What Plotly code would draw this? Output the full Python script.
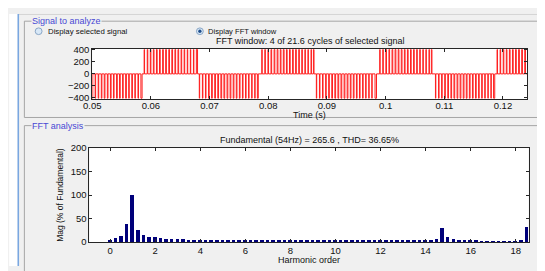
import plotly.graph_objects as go

# The browser page has an 8px white body margin; the figure sits inside it.
OFF = 8
W, H = 545 - OFF, 271 - OFF

# ---------------- data: signal (PWM) -----------------
# switching instants (ms) of each half cycle and its polarity
half_signs = [-1, 1, -1, 1, -1, 1, -1, 1]
amplitude = 405
edges_h1 = [50.00, 50.10, 50.50, 50.58, 51.02, 51.11, 51.55, 51.65, 52.05, 52.17, 52.58, 52.69, 53.10, 53.22,
            53.62, 53.72, 54.15, 54.27, 54.66, 54.77, 55.18, 55.28, 55.70, 55.82, 56.22, 56.31, 56.75, 56.85,
            57.27, 57.35, 57.80, 57.89, 58.30, 58.50]
edges_h2 = [58.85, 58.92, 59.38, 59.47, 59.90, 60.00, 60.42, 60.53, 60.95, 61.07, 61.47, 61.59, 62.00, 62.12,
            62.52, 62.64, 63.05, 63.17, 63.57, 63.69, 64.10, 64.21, 64.62, 64.73, 65.15, 65.25, 65.67, 65.76,
            66.20, 66.28, 66.72, 66.79, 67.25, 67.32, 67.75, 67.95]
edges_h3 = [68.25, 68.31, 68.78, 68.86, 69.30, 69.39, 69.83, 69.93, 70.35, 70.46, 70.88, 71.00, 71.40, 71.53,
            71.93, 72.06, 72.45, 72.58, 72.98, 73.11, 73.50, 73.63, 74.03, 74.15, 74.55, 74.67, 75.08, 75.19,
            75.60, 75.70, 76.13, 76.22, 76.65, 76.73, 77.18, 77.25, 77.70, 77.76, 78.15, 78.30]
edges_h4 = [78.90, 78.97, 79.42, 79.51, 79.95, 80.05, 80.47, 80.58, 81.00, 81.12, 81.52, 81.65, 82.05, 82.17,
            82.57, 82.70, 83.10, 83.22, 83.62, 83.74, 84.15, 84.26, 84.67, 84.78, 85.20, 85.30, 85.72, 85.81,
            86.25, 86.33, 86.77, 86.84, 87.30, 87.36, 87.70, 87.80]
edges_h5 = [88.20, 88.26, 88.73, 88.81, 89.25, 89.34, 89.78, 89.88, 90.30, 90.41, 90.83, 90.95, 91.35, 91.48,
            91.88, 92.01, 92.40, 92.53, 92.93, 93.06, 93.45, 93.58, 93.98, 94.10, 94.50, 94.62, 95.03, 95.14,
            95.55, 95.65, 96.08, 96.17, 96.60, 96.68, 97.13, 97.20, 97.65, 97.71, 98.20, 98.45]
edges_h6 = [99.00, 99.07, 99.52, 99.61, 100.05, 100.15, 100.57, 100.68, 101.10, 101.22, 101.62, 101.75, 102.15,
            102.27, 102.67, 102.80, 103.20, 103.32, 103.72, 103.84, 104.25, 104.36, 104.77, 104.88, 105.30,
            105.40, 105.82, 105.91, 106.35, 106.43, 106.87, 106.94, 107.40, 107.46, 107.80, 107.90]
edges_h7 = [108.50, 108.56, 109.03, 109.11, 109.55, 109.64, 110.08, 110.18, 110.60, 110.71, 111.13, 111.25,
            111.65, 111.78, 112.18, 112.31, 112.70, 112.83, 113.23, 113.36, 113.75, 113.88, 114.28, 114.40,
            114.80, 114.92, 115.33, 115.44, 115.85, 115.95, 116.38, 116.47, 116.90, 116.98, 117.43, 117.50,
            117.95, 118.01, 118.40, 118.60]
edges_h8 = [119.00, 119.07, 119.52, 119.61, 120.05, 120.15, 120.57, 120.68, 121.10, 121.22, 121.62, 121.75,
            122.15, 122.27, 122.67, 122.80, 123.20, 123.32, 123.72, 123.84]
window_end_ms = 124.1

time_ticks = [0.05, 0.06, 0.07, 0.08, 0.09, 0.10, 0.11, 0.12]
time_labels = ["0.05", "0.06", "0.07", "0.08", "0.09", "0.1", "0.11", "0.12"]
sig_ticks = [-400, -200, 0, 200, 400]

# ---------------- data: FFT -----------------
harmonic_order = [0.0, 0.25, 0.5, 0.75, 1.0, 1.25, 1.5, 1.75, 2.0, 2.25, 2.5, 2.75, 3.0, 3.25, 3.5, 3.75,
                  4.0, 4.25, 4.5, 4.75, 5.0, 5.25, 5.5, 5.75, 6.0, 6.25, 6.5, 6.75, 7.0, 7.25, 7.5, 7.75,
                  8.0, 8.25, 8.5, 8.75, 9.0, 9.25, 9.5, 9.75, 10.0, 10.25, 10.5, 10.75, 11.0, 11.25, 11.5, 11.75,
                  12.0, 12.25, 12.5, 12.75, 13.0, 13.25, 13.5, 13.75, 14.0, 14.25, 14.5, 14.75, 15.0, 15.25,
                  15.5, 15.75, 16.0, 16.25, 16.5, 16.75, 17.0, 17.25, 17.5, 17.75, 18.0, 18.25, 18.5]
mag_pct = [3.5, 7.5, 13.5, 38.5, 100.0, 25.0, 15.5, 11.5, 9.5, 8.2, 7.2, 6.4, 5.8, 5.3, 5.0, 4.6,
           4.4, 4.1, 3.9, 3.7, 3.5, 3.4, 3.3, 3.2, 3.1, 3.0, 2.9, 2.8, 2.7, 2.7, 2.6, 2.6,
           2.5, 2.5, 2.4, 2.4, 2.4, 2.3, 2.3, 2.3, 2.3, 2.3, 2.2, 2.2, 2.2, 2.2, 2.2, 2.2,
           2.2, 2.2, 2.2, 2.2, 2.2, 2.3, 2.5, 3.0, 3.6, 4.3, 7.0, 29.5, 10.5, 5.5,
           3.5, 2.6, 2.2, 2.0, 1.8, 1.6, 1.5, 1.4, 1.3, 1.3, 1.4, 2.0, 32.0]
harm_ticks = [0, 2, 4, 6, 8, 10, 12, 14, 16, 18]
mag_ticks = [0, 50, 100, 150, 200]

title_top = "FFT window: 4 of 21.6 cycles of selected signal"
title_bottom = "Fundamental (54Hz) = 265.6 , THD= 36.65%"

# ---------------- build signal trace -----------------
sig_t, sig_v = [], []
for sign, edges in zip(half_signs, [edges_h1, edges_h2, edges_h3, edges_h4,
                                     edges_h5, edges_h6, edges_h7, edges_h8]):
    for i, e in enumerate(edges):
        sig_t.append(e / 1000.0)
        sig_v.append(sign * amplitude if i % 2 == 0 else 0)
sig_t.append(window_end_ms / 1000.0)
sig_v.append(0)

fig = go.Figure()
fig.add_trace(go.Scatter(x=sig_t, y=sig_v, mode="lines", line=dict(color="#ff1f1f", width=1, shape="hv"),
                         xaxis="x", yaxis="y", showlegend=False, hoverinfo="skip"))
fig.add_trace(go.Bar(x=harmonic_order, y=mag_pct, width=0.16, marker=dict(color="#00007a", line=dict(width=0)),
                     xaxis="x2", yaxis="y2", showlegend=False))


def fx(p):
    # screen pixel x -> paper fraction
    return (p - OFF) / W


def fy(p):
    # screen pixel y (from top) -> paper fraction
    return 1 - (p - OFF) / H


FONT = "Liberation Sans, Arial, sans-serif"
axis_common = dict(showline=True, linecolor="#262626", linewidth=1, mirror="ticks", ticks="inside",
                   ticklen=3, tickcolor="#262626", showgrid=False, zeroline=False,
                   tickfont=dict(family=FONT, size=9.5, color="#111111"))

fig.update_layout(
    width=W, height=H, autosize=False,
    margin=dict(l=0, r=0, t=0, b=0),
    paper_bgcolor="#f0f0f0", plot_bgcolor="#ffffff",
    bargap=0,
    xaxis=dict(domain=[fx(84.5), fx(526.7)], anchor="y", range=[0.05, 0.1241],
               tickvals=time_ticks, ticktext=time_labels, ticklabelstandoff=-2, **axis_common),
    yaxis=dict(domain=[fy(96.7), fy(44.3)], anchor="x", range=[-418, 418],
               tickvals=sig_ticks, **axis_common),
    xaxis2=dict(domain=[fx(81.7), fx(528.3)], anchor="y2", range=[-0.92, 18.57],
                tickvals=harm_ticks, **axis_common),
    yaxis2=dict(domain=[fy(246), fy(148)], anchor="x2", range=[0, 200],
                tickvals=mag_ticks, **axis_common),
)

shapes = [
    dict(type="rect", xref="paper", yref="paper", x0=fx(0), x1=fx(9), y0=0, y1=1,
         fillcolor="#ffffff", line=dict(width=0)),
    dict(type="line", xref="paper", yref="paper", x0=fx(9), x1=1, y0=fy(8.5), y1=fy(8.5),
         line=dict(color="#d4d4d4", width=1)),
    dict(type="line", xref="paper", yref="paper", x0=fx(9.3), x1=fx(9.3), y0=fy(8), y1=0,
         line=dict(color="#7aa7e0", width=1.6)),
    # panel borders
    dict(type="rect", xref="paper", yref="paper", x0=fx(15.5), x1=fx(560), y0=fy(116), y1=fy(15.5),
         line=dict(color="#a5a5a5", width=1)),
    dict(type="rect", xref="paper", yref="paper", x0=fx(15.5), x1=fx(560), y0=fy(290), y1=fy(124.5),
         line=dict(color="#a5a5a5", width=1)),
    # radio buttons
    dict(type="circle", xref="paper", yref="paper", x0=fx(26.5), x1=fx(33.5), y0=fy(29.5), y1=fy(22.5),
         fillcolor="#d8e8f7", line=dict(color="#8aa6c6", width=1)),
    dict(type="circle", xref="paper", yref="paper", x0=fx(190.5), x1=fx(197.5), y0=fy(29.5), y1=fy(22.5),
         fillcolor="#d8e8f7", line=dict(color="#8aa6c6", width=1)),
    dict(type="circle", xref="paper", yref="paper", x0=fx(192.3), x1=fx(195.7), y0=fy(27.7), y1=fy(24.3),
         fillcolor="#1f4e8c", line=dict(width=0)),
]
fig.update_layout(shapes=shapes)


def ann(text, x, y, size=9, color="#111111", xanchor="center", bg=None, angle=0):
    d = dict(text=text, xref="paper", yref="paper", x=fx(x), y=fy(y), showarrow=False,
             xanchor=xanchor, yanchor="middle", textangle=angle,
             font=dict(family=FONT, size=size, color=color))
    if bg:
        d["bgcolor"] = bg
        d["borderpad"] = 0
    return d


annotations = [
    ann("Signal to analyze", 22, 15.5, size=9, color="#4848d4", xanchor="left", bg="#f0f0f0"),
    ann("FFT analysis", 22, 124.5, size=9, color="#4848d4", xanchor="left", bg="#f0f0f0"),
    ann("Display selected signal", 37.5, 26, size=7.8, xanchor="left"),
    ann("Display FFT window", 200.5, 26, size=7.6, xanchor="left"),
    ann(title_top, 305.6, 36.2, size=9),
    ann("Time (s)", 305.6, 113, size=9),
    ann(title_bottom, 305, 140, size=9),
    ann("Mag (% of Fundamental)", 51.5, 197, size=8.5, angle=-90),
    ann("Harmonic order", 305, 265, size=9),
]
fig.update_layout(annotations=annotations)

fig.write_html("out.html")
